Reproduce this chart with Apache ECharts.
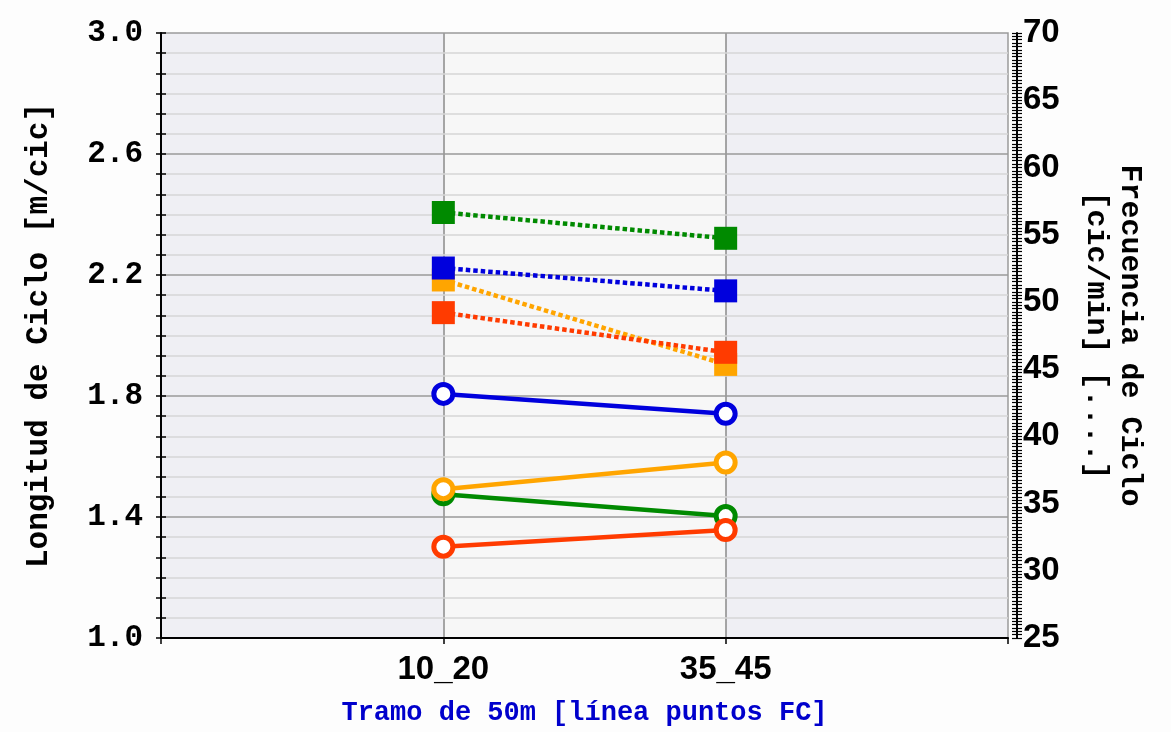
<!DOCTYPE html>
<html>
<head>
<meta charset="utf-8">
<script src="https://cdn.jsdelivr.net/npm/echarts@6/dist/echarts.min.js"></script>
<style>
html,body{margin:0;padding:0;background:#fdfdfd;}
#chart{width:1171px;height:732px;}
</style>
</head>
<body>
<div id="chart"></div>
<script>
// Categories (empty slots at the ends pad the axis)
const categories = ['', '10_20', '35_45', ''];

// Longitud de Ciclo [m/cic] (solid lines, left axis)
const lcGreen  = [null, 1.475, 1.403, null];
const lcOrange = [null, 1.492, 1.580, null];
const lcBlue   = [null, 1.807, 1.741, null];
const lcRed    = [null, 1.302, 1.357, null];

// Frecuencia de Ciclo [cic/min] (dotted lines, right axis)
const fcGreen  = [null, 56.65, 54.73, null];
const fcOrange = [null, 51.63, 45.35, null];
const fcBlue   = [null, 52.52, 50.82, null];
const fcRed    = [null, 49.20, 46.25, null];

const colors = { green: '#008a00', orange: '#ffa500', blue: '#0000dd', red: '#ff3b00' };

const chart = echarts.init(document.getElementById('chart'), null, { renderer: 'canvas' });

function solid(name, data, color, z) {
  return {
    name: name, type: 'line', yAxisIndex: 0, data: data, z: z,
    symbol: 'circle', symbolSize: 19, connectNulls: false,
    lineStyle: { color: color, width: 4.5 },
    itemStyle: { color: '#ffffff', borderColor: color, borderWidth: 5 },
    emphasis: { disabled: true }
  };
}
function dotted(name, data, color, z) {
  return {
    name: name, type: 'line', yAxisIndex: 1, data: data, z: z,
    symbol: 'rect', symbolSize: 23, connectNulls: false,
    lineStyle: { color: color, width: 4.5, type: [4.5, 3] },
    itemStyle: { color: color },
    emphasis: { disabled: true }
  };
}

const monoBold = { fontFamily: 'Liberation Mono', fontWeight: 'bold', color: '#000' };

chart.setOption({
  animation: false,
  backgroundColor: '#fdfdfd',
  grid: { left: 161, right: 163, top: 33, bottom: 88, show: true, borderColor: '#9a9a9a', borderWidth: 1.5, backgroundColor: 'transparent' },
  xAxis: {
    type: 'category', data: categories, boundaryGap: false, z: 2,
    axisLine: { lineStyle: { color: '#000', width: 2 } },
    axisTick: { show: true, length: 6, lineStyle: { color: '#000', width: 1.5 } },
    axisLabel: { fontFamily: 'Liberation Sans', fontWeight: 'bold', fontSize: 33, color: '#000', margin: 15 },
    splitLine: { show: false },
    name: 'Tramo de 50m [línea puntos FC]', nameLocation: 'middle', nameGap: 62,
    nameTextStyle: { fontFamily: 'Liberation Mono', fontWeight: 'bold', fontSize: 27, color: '#0000cc' }
  },
  yAxis: [
    {
      type: 'value', position: 'left', min: 1, max: 3, interval: 0.4, z: 1,
      axisLine: { show: true, lineStyle: { color: '#000', width: 2 } },
      axisTick: { show: true, length: 5, lineStyle: { color: '#000', width: 1.5 } },
      minorTick: { show: true, splitNumber: 6, length: 5, lineStyle: { color: '#000', width: 1.5 } },
      axisLabel: Object.assign({ fontSize: 31, margin: 18, formatter: v => v.toFixed(1) }, monoBold),
      splitLine: { show: true, showMinLine: false, showMaxLine: false, lineStyle: { color: '#9a9a9a', width: 1.5 } },
      minorSplitLine: { show: true, lineStyle: { color: '#d6d6d6', width: 1.5 } },
      name: 'Longitud de Ciclo [m/cic]', nameLocation: 'middle', nameGap: 106,
      nameTextStyle: Object.assign({ fontSize: 31 }, monoBold)
    },
    {
      type: 'value', position: 'right', offset: 9, min: 25, max: 70, interval: 5, z: 1,
      axisLine: { show: true, lineStyle: { color: '#000', width: 2 } },
      axisTick: { show: true, length: 5, lineStyle: { color: '#000', width: 1.2 } },
      minorTick: { show: true, splitNumber: 20, length: 5, lineStyle: { color: '#000', width: 1.2 } },
      axisLabel: { fontFamily: 'Liberation Sans', fontWeight: 'bold', fontSize: 33, color: '#000', margin: 6 },
      splitLine: { show: false },
      name: 'Frecuencia de Ciclo\n[cic/min] [....]', nameLocation: 'middle', nameGap: 62, nameRotate: -90,
      nameTextStyle: Object.assign({ fontSize: 30, lineHeight: 34 }, monoBold)
    },
    {
      type: 'value', position: 'left', min: 1, max: 3, interval: 0.4, z: 1,
      axisLine: { show: false },
      axisTick: { show: true, inside: true, length: 5, lineStyle: { color: '#000', width: 1.5 } },
      minorTick: { show: true, splitNumber: 6, length: 5, lineStyle: { color: '#000', width: 1.5 } },
      axisLabel: { show: false }, splitLine: { show: false }
    },
    {
      type: 'value', position: 'right', offset: 9, min: 25, max: 70, interval: 5, z: 1,
      axisLine: { show: false },
      axisTick: { show: true, inside: true, length: 5, lineStyle: { color: '#000', width: 1.2 } },
      minorTick: { show: true, splitNumber: 20, length: 5, lineStyle: { color: '#000', width: 1.2 } },
      axisLabel: { show: false }, splitLine: { show: false }
    }
  ],
  series: [
    solid('LC green', lcGreen, colors.green, 2),
    solid('LC orange', lcOrange, colors.orange, 3),
    solid('LC blue', lcBlue, colors.blue, 4),
    solid('LC red', lcRed, colors.red, 5),
    dotted('FC green', fcGreen, colors.green, 2),
    dotted('FC orange', fcOrange, colors.orange, 3),
    dotted('FC blue', fcBlue, colors.blue, 4),
    dotted('FC red', fcRed, colors.red, 5)
  ]
});

// Background bands and vertical grid lines come from a second (hidden-label) x axis drawn beneath everything
chart.setOption({
  xAxis: [
    chart.getOption().xAxis[0],
    {
      type: 'category', data: categories, boundaryGap: false, z: -1, position: 'bottom',
      axisLine: { show: false }, axisTick: { show: false }, axisLabel: { show: false },
      splitLine: { show: true, showMinLine: false, showMaxLine: false, lineStyle: { color: '#8a8a8a', width: 1.5 } },
      splitArea: { show: true, areaStyle: { color: ['#efeff4', '#f7f7f7'] } }
    }
  ]
});
</script>
</body>
</html>
